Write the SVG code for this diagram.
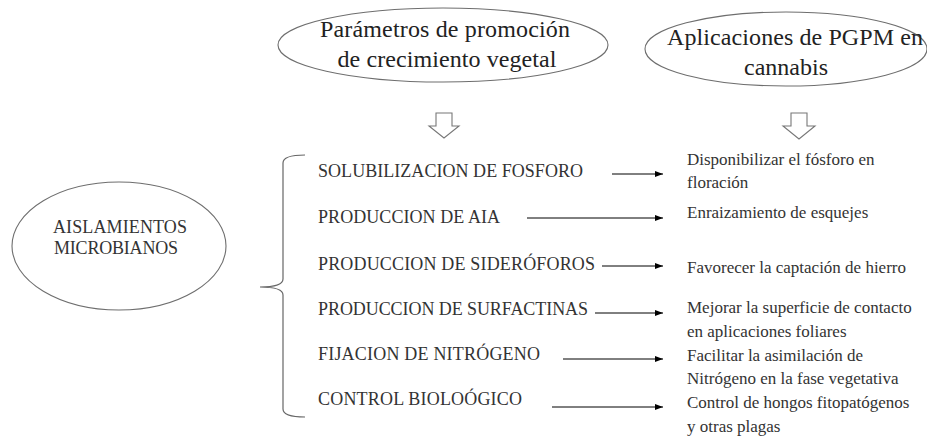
<svg xmlns="http://www.w3.org/2000/svg" width="927" height="444" viewBox="0 0 927 444">
<defs>
<marker id="ah" viewBox="0 0 8 6" refX="8" refY="3" markerWidth="8" markerHeight="6" markerUnits="userSpaceOnUse" orient="auto">
<path d="M0,0 L8,3 L0,6 Z" fill="#000"/>
</marker>
</defs>
<style>
text{font-family:'Liberation Serif','DejaVu Serif',serif}
.ell{fill:#fff;stroke:#6e6e6e;stroke-width:1.1}
.big{font-size:24px;fill:#222}
.mid{font-size:18px;fill:#333}
.rt{font-size:17px;fill:#333}
.conn line{stroke:#000;stroke-width:1;marker-end:url(#ah)}
.blk{fill:#fff;stroke:#777;stroke-width:1.1}
.brace{fill:none;stroke:#666;stroke-width:1.2}
</style>
<rect width="927" height="444" fill="#fff"/>
<g font-family="Liberation Serif, serif">
<g id="param">
<ellipse class="ell" cx="443" cy="45" rx="165" ry="37"/>
<text class="big" x="445" y="37" text-anchor="middle" textLength="250">Parámetros de promoción</text>
<text class="big" x="447" y="67" text-anchor="middle" textLength="219">de crecimiento vegetal</text>
</g>
<g id="aplic">
<ellipse class="ell" cx="786" cy="49" rx="141" ry="37"/>
<text class="big" x="795" y="45" text-anchor="middle" textLength="256">Aplicaciones de PGPM en</text>
<text class="big" x="786" y="75" text-anchor="middle">cannabis</text>
</g>
<g id="arrow-down-1"><path class="blk" d="M436,113 H452 V126 H459 L444,138 L429,126 H436 Z"/></g>
<g id="arrow-down-2"><path class="blk" d="M791,113 H807 V126 H815 L799,139 L783,126 H791 Z"/></g>
<g id="aislamientos">
<ellipse class="ell" cx="119" cy="246" rx="107" ry="64"/>
<text class="mid" x="120" y="233" text-anchor="middle" textLength="134">AISLAMIENTOS</text>
<text class="mid" x="116" y="254" text-anchor="middle" textLength="124">MICROBIANOS</text>
</g>
<g id="brace"><path class="brace" d="M305,155 Q283,155 283,163 V279 Q283,287 260,287 Q283,287 283,295 V409 Q283,417 305,417"/></g>
<g id="parametros">
<text class="mid" x="318" y="177" textLength="265">SOLUBILIZACION DE FOSFORO</text>
<text class="mid" x="318" y="223" textLength="182">PRODUCCION DE AIA</text>
<text class="mid" x="318" y="270" textLength="277">PRODUCCION DE SIDERÓFOROS</text>
<text class="mid" x="318" y="315" textLength="270">PRODUCCION DE SURFACTINAS</text>
<text class="mid" x="318" y="360" textLength="222">FIJACION DE NITRÓGENO</text>
<text class="mid" x="318" y="405" textLength="204">CONTROL BIOLOÓGICO</text>
</g>
<g id="aplicaciones">
<text class="rt" x="687" y="165">Disponibilizar el fósforo en</text>
<text class="rt" x="687" y="188">floración</text>
<text class="rt" x="687" y="218">Enraizamiento de esquejes</text>
<text class="rt" x="687" y="273">Favorecer la captación de hierro</text>
<text class="rt" x="687" y="313">Mejorar la superficie de contacto</text>
<text class="rt" x="687" y="337">en aplicaciones foliares</text>
<text class="rt" x="687" y="361">Facilitar la asimilación de</text>
<text class="rt" x="687" y="384">Nitrógeno en la fase vegetativa</text>
<text class="rt" x="687" y="408">Control de hongos fitopatógenos</text>
<text class="rt" x="687" y="432">y otras plagas</text>
</g>
</g>
<g id="connectors" class="conn">
<line x1="612" y1="174" x2="663" y2="174"/>
<line x1="527" y1="218" x2="663" y2="218"/>
<line x1="602" y1="266" x2="663" y2="266"/>
<line x1="595" y1="313" x2="663" y2="313"/>
<line x1="563" y1="359" x2="663" y2="359"/>
<line x1="552" y1="407" x2="663" y2="407"/>
</g>
</svg>
